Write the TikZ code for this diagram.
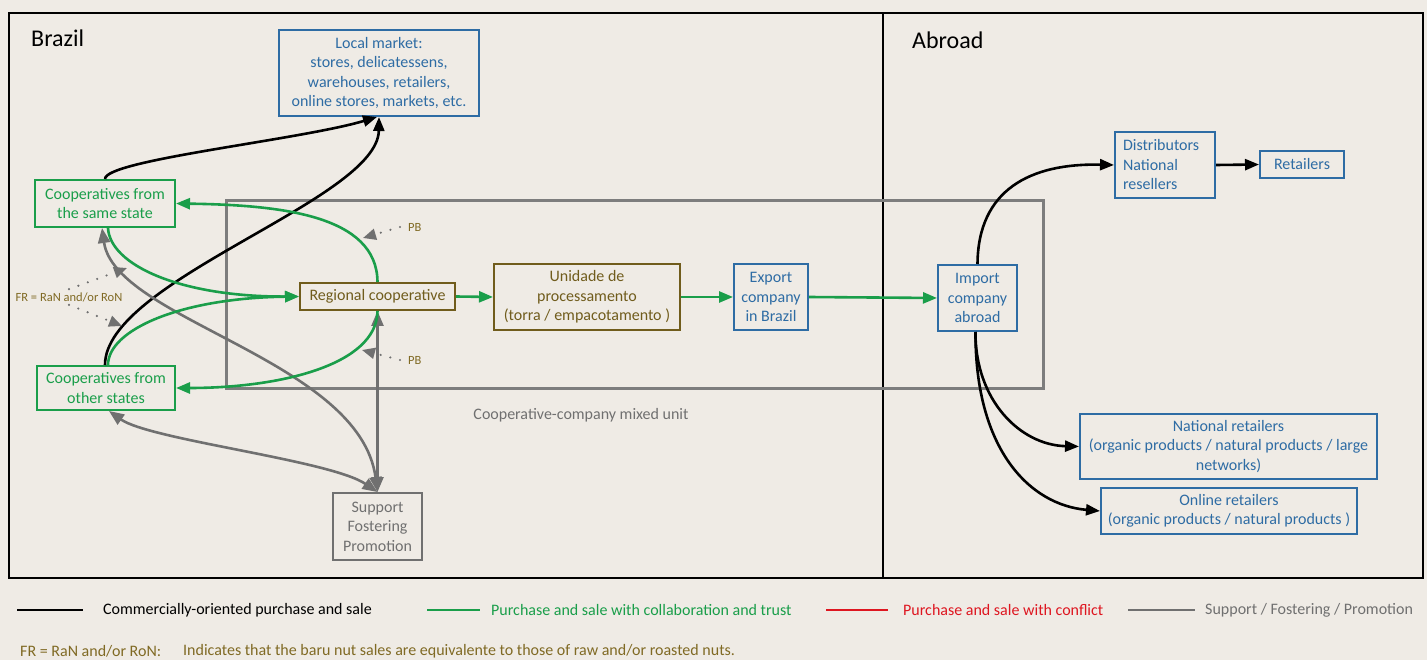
\documentclass[tikz,border=0pt]{standalone}
\usepackage{fontspec}
\setmainfont{Carlito}
\usetikzlibrary{arrows.meta}
\definecolor{paper}{RGB}{239,235,229}
\definecolor{cblue}{RGB}{46,108,164}
\definecolor{cgreen}{RGB}{26,158,74}
\definecolor{colive}{RGB}{112,92,28}
\definecolor{cfr}{RGB}{128,106,36}
\definecolor{cgray}{RGB}{112,112,112}
\definecolor{cbox}{RGB}{125,125,125}
\definecolor{cred}{RGB}{222,22,32}
\tikzset{
  txt/.style={font=\fontsize{16}{19.5}\selectfont, inner sep=0pt},
  box/.style={txt, draw, line width=2pt, align=center},
  bluebox/.style={box, draw=cblue, text=cblue},
  greenbox/.style={box, draw=cgreen, text=cgreen},
  olivebox/.style={box, draw=colive, text=colive},
  graybox/.style={box, draw=cgray, text=cgray},
  blk/.style={draw=black, line width=2.6pt, -{Triangle[length=14pt,width=11pt]}},
  grn/.style={draw=cgreen, line width=2.6pt, -{Triangle[length=14pt,width=11pt]}},
  gry/.style={draw=cgray, line width=2.6pt, {Triangle[length=15pt,width=12pt]}-{Triangle[length=15pt,width=12pt]}},
  dots/.style={draw=cgray, line width=2.4pt, line cap=round, dash pattern=on 0pt off 10pt, -{Triangle[length=13pt,width=11pt]}},
  small/.style={font=\fontsize{12.5}{15}\selectfont, inner sep=0pt, text=cfr},
}
\begin{document}
\begin{tikzpicture}[x=1pt,y=-1pt]
\useasboundingbox (0,0) rectangle (1427,660);
\fill[paper] (0,0) rectangle (1427,660);

% frames
\draw[line width=2pt] (9,13) rectangle (1423,578);
\draw[line width=2pt] (883,13) -- (883,578);
\draw[cbox, line width=3pt] (226,201) rectangle (1043,388);

\node[txt, anchor=west, font=\fontsize{24}{28}\selectfont] (brazil) at (31,38) {Brazil};
\node[txt, anchor=west, font=\fontsize{24}{28}\selectfont] (abroad) at (912,40) {Abroad};
\node[txt, text=cgray] (mixed) at (581,415) {Cooperative-company mixed unit};

% nodes
\node[bluebox, minimum width=200pt, minimum height=86pt] (local) at (379,73)
  {Local market:\\stores, delicatessens,\\warehouses, retailers,\\online stores, markets, etc.};
\node[greenbox, minimum width=140pt, minimum height=47pt] (same) at (105,203.5)
  {Cooperatives from\\the same state};
\node[greenbox, minimum width=138pt, minimum height=44pt] (other) at (106,388)
  {Cooperatives from\\other states};
\node[olivebox, minimum width=155pt, minimum height=27pt] (regional) at (377.5,296.5)
  {Regional cooperative};
\node[olivebox, minimum width=186pt, minimum height=66pt] (unidade) at (587,297)
  {Unidade de\\processamento\\(torra / empacotamento )};
\node[bluebox, minimum width=74pt, minimum height=66pt] (export) at (771,297)
  {Export\\company\\in Brazil};
\node[bluebox, minimum width=79pt, minimum height=66pt] (import) at (977.5,298)
  {Import\\company\\abroad};
\node[bluebox, minimum width=100pt, minimum height=66pt, align=left, text width=84pt] (distrib) at (1165,165)
  {Distributors\\National\\resellers};
\node[bluebox, minimum width=84pt, minimum height=27pt] (retail) at (1302,164.5)
  {Retailers};
\node[bluebox, minimum width=297pt, minimum height=65pt] (natret) at (1228.5,446.5)
  {National retailers\\(organic products / natural products / large\\networks)};
\node[bluebox, minimum width=256pt, minimum height=46pt] (online) at (1229,511)
  {Online retailers\\(organic products / natural products )};
\node[graybox, minimum width=89pt, minimum height=67pt] (support) at (377.5,526.5)
  {Support\\Fostering\\Promotion};

% black connectors
\draw[blk] (same.north) .. controls (105,160) and (300,140) .. ([xshift=-2pt]local.south);
\draw[blk] ([xshift=-1pt]other.north) .. controls (105,280) and (378,200) .. ([xshift=0pt]local.south);
\draw[blk] (import.north) .. controls (978,190) and (1030,163) .. (distrib.west);
\draw[blk] (distrib.east) -- (retail.west);
\draw[blk] ([xshift=-2pt]import.south) .. controls (975,400) and (1020,445) .. (natret.west);
\draw[blk] ([xshift=-2pt]import.south) .. controls (975,450) and (1030,505) .. (online.west);

% gray connectors
\draw[gry] (regional.south) -- (support.north);
\draw[gry] ([xshift=-3pt]same.south) .. controls (115,320) and (360,360) .. (support.north);
\draw[gry] ([xshift=3pt]other.south) .. controls (150,440) and (330,460) .. (support.north);

% green connectors
\draw[grn] (regional.north) .. controls (377,215) and (280,205) .. (same.east);
\draw[grn] (regional.south) .. controls (377,365) and (280,388) .. (other.east);
\draw[grn] ([xshift=3pt]same.south) .. controls (110,265) and (180,297) .. (regional.west);
\draw[grn] ([xshift=2pt]other.north) .. controls (108,330) and (180,298) .. (regional.west);
\draw[grn] (regional.east) -- (unidade.west);
\draw[grn] (unidade.east) -- (export.west);
\draw[grn] (export.east) -- (import.west);

% PB and FR annotations
\node[small, anchor=west] (pb1) at (408,227) {PB};
\coordinate (pb1tip) at (363,238);
\draw[dots] ([xshift=-8pt]pb1.west) -- (pb1tip);
\node[small, anchor=west] (pb2) at (408,360) {PB};
\coordinate (pb2tip) at (362,350);
\draw[dots] ([xshift=-8pt]pb2.west) -- (pb2tip);

\node[small] (fr) at (69,297) {FR = RaN and/or RoN};
\coordinate (fr1tip) at (127,268);
\coordinate (fr2tip) at (122,326);
\draw[dots] ([yshift=3pt]fr.north) -- (fr1tip);
\draw[dots] ([yshift=-3pt]fr.south) -- (fr2tip);

% legend
\draw[black, line width=2.6pt] (17,610) -- (83,610);
\node[txt, anchor=west] (l1) at (103,610) {Commercially-oriented purchase and sale};
\draw[cgreen, line width=2.6pt] (427,610) -- (480,610);
\node[txt, anchor=west, text=cgreen] (l2) at (491,610) {Purchase and sale with collaboration and trust};
\draw[cred, line width=2.6pt] (826,610) -- (888,610);
\node[txt, anchor=west, text=cred] (l3) at (903,610) {Purchase and sale with conflict};
\draw[cgray, line width=2.6pt] (1128,610) -- (1195,610);
\node[txt, anchor=west, text=cgray] (l4) at (1205,610) {Support / Fostering / Promotion};

\node[txt, anchor=west, text=cfr] (frdef) at (20,651) {FR = RaN and/or RoN:};
\node[txt, anchor=west, text=cfr] (frtext) at (183,651) {Indicates that the baru nut sales are equivalente to those of raw and/or roasted nuts.};
\end{tikzpicture}
\end{document}
